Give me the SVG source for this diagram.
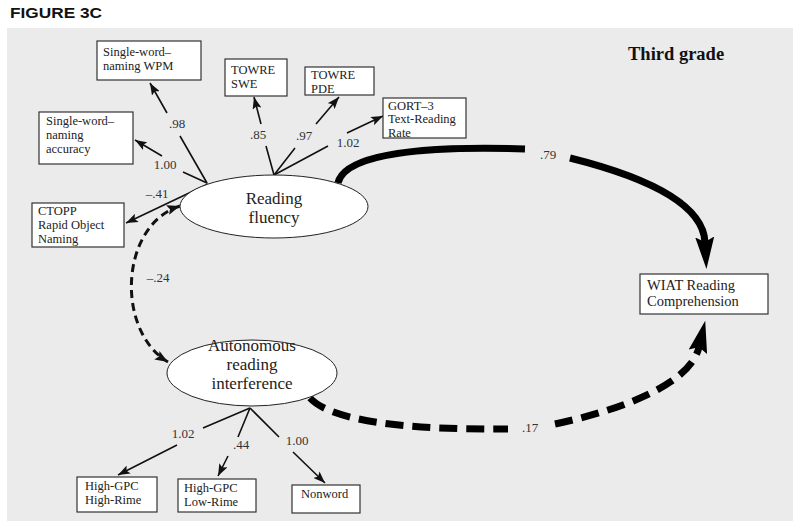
<svg xmlns="http://www.w3.org/2000/svg" width="800" height="529" viewBox="0 0 800 529">
<defs>
<style>
.box{fill:#fff;stroke:#333;stroke-width:1.2}
.ell{fill:#fff;stroke:#222;stroke-width:1}
.bt{font-family:"Liberation Serif","Times New Roman",serif;font-size:12.5px;fill:#222}
.et{font-family:"Liberation Serif","Times New Roman",serif;font-size:17px;fill:#222;text-anchor:middle}
.lbl{font-family:"Liberation Serif","Times New Roman",serif;font-size:13px;fill:#333;text-anchor:middle}
.thin{fill:none;stroke:#111;stroke-width:1.6;marker-end:url(#ah)}
</style>
<marker id="ah" markerUnits="userSpaceOnUse" markerWidth="12" markerHeight="9" refX="12" refY="4.5" orient="auto">
<path d="M0,0 L12,4.5 L0,9 L2.5,4.5 z" fill="#111"/>
</marker>
<marker id="ahd" markerUnits="userSpaceOnUse" markerWidth="13" markerHeight="10" refX="13" refY="5" orient="auto-start-reverse">
<path d="M0,0 L13,5 L0,10 L2.5,5 z" fill="#111"/>
</marker>
<marker id="big" markerUnits="userSpaceOnUse" markerWidth="32" markerHeight="19" refX="5" refY="9.5" orient="auto">
<path d="M0,0 L32,9.5 L0,19 L5,9.5 z" fill="#000"/>
</marker>
</defs>
<rect x="0" y="0" width="800" height="529" fill="#fff"/>
<rect x="7" y="28" width="786" height="493" fill="#ebebeb"/>
<text x="10" y="18" font-family="Liberation Sans, Arial, sans-serif" font-weight="bold" font-size="15.5" textLength="92" lengthAdjust="spacingAndGlyphs" fill="#111">FIGURE 3C</text>
<text x="628" y="60" font-family="Liberation Serif, Times New Roman, serif" font-weight="bold" font-size="18.5" fill="#111">Third grade</text>

<g id="connectors">
<path class="thin" d="M207,183 L180,136 M167,113 L150,83"/>
<path class="thin" d="M207,183 L183,172 M162,156 L135,140"/>
<path class="thin" d="M274,175 L266,146 M261,124 L254,97"/>
<path class="thin" d="M274,175 L295,148 M316,124 L339,97"/>
<path class="thin" d="M274,175 L328,146 M347,133 L383,116"/>
<path class="thin" d="M208,184 L126,223"/>
<path class="thin" d="M250,408 L203,428 M177,445 L118,475"/>
<path class="thin" d="M250,408 L238,437 M228,456 L218,476"/>
<path class="thin" d="M250,408 L279,437 M293,452 L325,483"/>
<path d="M180,206 C120,225 115,330 168,362" fill="none" stroke="#111" stroke-width="3" stroke-dasharray="8,5" marker-start="url(#ahd)" marker-end="url(#ahd)"/>
<path d="M338,183 C345,152 430,146 525,149" fill="none" stroke="#000" stroke-width="7"/>
<path d="M570,158 C650,178 703,205 705,242" fill="none" stroke="#000" stroke-width="7" marker-end="url(#big)"/>
<path d="M310,398 C330,420 400,430 508,429" fill="none" stroke="#000" stroke-width="7" stroke-dasharray="18,9"/>
<path d="M555,424 C620,410 690,385 699,347" fill="none" stroke="#000" stroke-width="7" stroke-dasharray="18,9" marker-end="url(#big)"/>
<text class="lbl" x="177" y="128">.98</text>
<text class="lbl" x="165" y="169">1.00</text>
<text class="lbl" x="258" y="139">.85</text>
<text class="lbl" x="304" y="140">.97</text>
<text class="lbl" x="348" y="147">1.02</text>
<text class="lbl" x="157" y="198">–.41</text>
<text class="lbl" x="158" y="282">–.24</text>
<text class="lbl" x="548" y="159">.79</text>
<text class="lbl" x="530" y="432">.17</text>
<text class="lbl" x="183" y="438">1.02</text>
<text class="lbl" x="241" y="449">.44</text>
<text class="lbl" x="297" y="445">1.00</text>
</g>

<g id="reading-fluency">
<ellipse class="ell" cx="274" cy="206.5" rx="94" ry="31.5"/>
<text class="et" x="274" y="204">Reading</text>
<text class="et" x="274" y="223">fluency</text>
</g>
<g id="autonomous">
<ellipse class="ell" cx="252" cy="373" rx="85" ry="33"/>
<text class="et" x="252" y="351">Autonomous</text>
<text class="et" x="252" y="370">reading</text>
<text class="et" x="252" y="389">interference</text>
</g>
<g id="wpm">
<rect class="box" x="97" y="41" width="104" height="39"/>
<text class="bt" x="103" y="56">Single-word–</text>
<text class="bt" x="103" y="70">naming WPM</text>
</g>
<g id="accuracy">
<rect class="box" x="39" y="112" width="94" height="52"/>
<text class="bt" x="46" y="125">Single-word–</text>
<text class="bt" x="46" y="139">naming</text>
<text class="bt" x="46" y="153">accuracy</text>
</g>
<g id="towre-swe">
<rect class="box" x="225" y="59" width="62" height="37"/>
<text class="bt" x="231" y="74">TOWRE</text>
<text class="bt" x="231" y="88">SWE</text>
</g>
<g id="towre-pde">
<rect class="box" x="305" y="67" width="69" height="28"/>
<text class="bt" x="311" y="79">TOWRE</text>
<text class="bt" x="311" y="93">PDE</text>
</g>
<g id="gort">
<rect class="box" x="383" y="98" width="83" height="40"/>
<text class="bt" x="388" y="109.5">GORT–3</text>
<text class="bt" x="388" y="123.4">Text-Reading</text>
<text class="bt" x="388" y="137.3">Rate</text>
</g>
<g id="ctopp">
<rect class="box" x="32" y="203" width="92" height="44"/>
<text class="bt" x="38" y="215">CTOPP</text>
<text class="bt" x="38" y="229">Rapid Object</text>
<text class="bt" x="38" y="243">Naming</text>
</g>
<g id="wiat">
<rect class="box" x="640" y="274" width="128" height="40"/>
<text class="bt" x="647" y="290" style="font-size:14.5px">WIAT Reading</text>
<text class="bt" x="647" y="306" style="font-size:14.5px">Comprehension</text>
</g>
<g id="high-high">
<rect class="box" x="77" y="477" width="80" height="35"/>
<text class="bt" x="85" y="490">High-GPC</text>
<text class="bt" x="85" y="504">High-Rime</text>
</g>
<g id="high-low">
<rect class="box" x="178" y="479" width="78" height="33"/>
<text class="bt" x="184" y="492">High-GPC</text>
<text class="bt" x="184" y="506">Low-Rime</text>
</g>
<g id="nonword">
<rect class="box" x="292" y="485" width="68" height="28"/>
<text class="bt" x="301" y="498">Nonword</text>
</g>
</svg>
